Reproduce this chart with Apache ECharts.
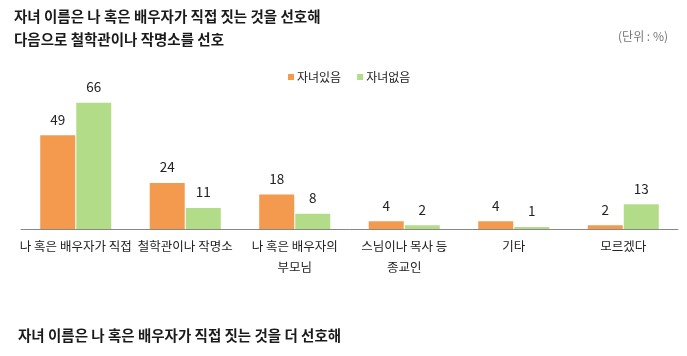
<!DOCTYPE html>
<html><head><meta charset="utf-8">
<script src="https://cdn.jsdelivr.net/npm/echarts@6/dist/echarts.min.js"></script>
<style>html,body{margin:0;padding:0;background:#fff}#c{width:687px;height:356px}</style>
</head><body><div id="c"></div>
<script>
const categories = ['나 혹은 배우자가 직접', '철학관이나 작명소', '나 혹은 배우자의\n부모님', '스님이나 목사 등\n종교인', '기타', '모르겠다'];
const withKids = [49, 24, 18, 4, 4, 2];
const withoutKids = [66, 11, 8, 2, 1, 13];
const seriesNames = ['자녀있음', '자녀없음'];
const titleLines = '자녀 이름은 나 혹은 배우자가 직접 짓는 것을 선호해\n다음으로 철학관이나 작명소를 선호';
const unitText = '(단위 : %)';
const footText = '자녀 이름은 나 혹은 배우자가 직접 짓는 것을 더 선호해';

const font = '"Noto Sans CJK KR", "Noto Sans", sans-serif';
const chart = echarts.init(document.getElementById('c'));
const lbl = {show: true, position: 'top', distance: 9, color: '#222', fontSize: 13.5, fontFamily: font};
chart.setOption({
  animation: false,
  textStyle: {fontFamily: font},
  title: [
    {text: titleLines, left: 9, top: 0, padding: 5, textStyle: {fontSize: 14.5, fontWeight: 'bold', color: '#1a1a1a', lineHeight: 23, fontFamily: font}},
    {text: unitText, right: 14, top: 25, textStyle: {fontSize: 12, fontWeight: 'normal', color: '#777', fontFamily: font}},
    {text: footText, left: 13, top: 323, textStyle: {fontSize: 14.5, fontWeight: 'bold', color: '#1a1a1a', fontFamily: font}}
  ],
  legend: {
    data: seriesNames, left: 283, top: 66, itemWidth: 6, itemHeight: 6, itemGap: 16,
    icon: 'rect', textStyle: {fontSize: 12, color: '#222', padding: [0, 0, 0, -2], fontFamily: font}
  },
  grid: {left: 21, right: 9, top: 76, bottom: 127},
  xAxis: {
    type: 'category', data: categories,
    axisLine: {lineStyle: {color: '#888', width: 1}},
    axisTick: {show: false},
    axisLabel: {interval: 0, color: '#222', fontSize: 12.5, margin: 7, lineHeight: 21, fontFamily: font}
  },
  yAxis: {type: 'value', min: 0, max: 80, show: false, splitLine: {show: false}},
  series: [
    {name: seriesNames[0], type: 'bar', data: withKids, barWidth: 35, barGap: '3%', itemStyle: {color: '#F39A4E'}, label: lbl},
    {name: seriesNames[1], type: 'bar', data: withoutKids, barWidth: 35, itemStyle: {color: '#B3DC88'}, label: lbl}
  ]
});
</script></body></html>
